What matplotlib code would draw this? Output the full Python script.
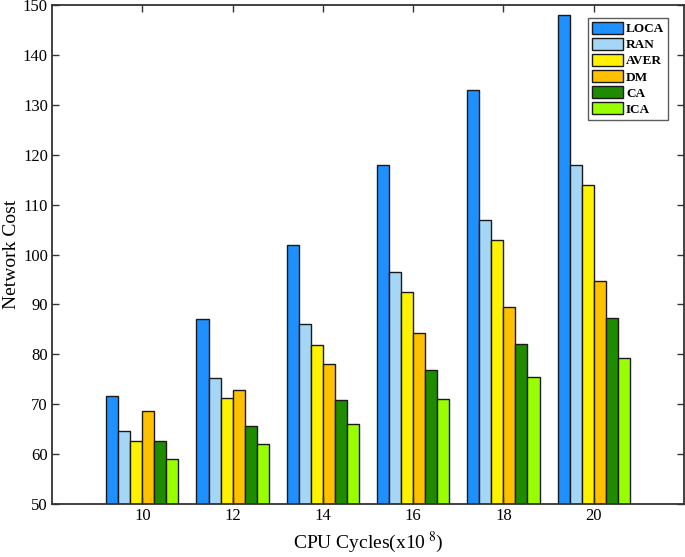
import numpy as np
import matplotlib
matplotlib.use("Agg")
import matplotlib.pyplot as plt

plt.rcParams['font.family'] = 'Liberation Serif'
plt.rcParams['mathtext.fontset'] = 'stix'

cycles = ['10', '12', '14', '16', '18', '20']
methods = ['LOCA', 'RAN', 'AVER', 'DM', 'CA', 'ICA']
loca = [71.7, 87.0, 102.0, 118.0, 133.0, 148.0]
ran = [64.6, 75.3, 86.0, 96.6, 106.9, 118.0]
aver = [62.6, 71.3, 81.9, 92.5, 103.0, 114.0]
dm = [68.6, 72.8, 78.0, 84.2, 89.5, 94.7]
ca = [62.6, 65.6, 70.8, 76.8, 82.0, 87.2]
ica = [59.0, 62.0, 66.1, 71.0, 75.5, 79.3]
series = [loca, ran, aver, dm, ca, ica]
colors = ['#1E90FF', '#A6D6F5', '#FFF200', '#FFC000', '#1F8C00', '#99FF00']

fig = plt.figure(figsize=(6.85, 5.57), dpi=100)
ax = fig.add_axes([0.076, 0.095, 0.9225, 0.896])

x = np.arange(1, len(cycles) + 1)
w = 0.8 / len(methods)
for i, (vals, c, name) in enumerate(zip(series, colors, methods)):
    ax.bar(x + (i - 2.5) * w, np.array(vals) - 50, w, bottom=50, color=c,
           edgecolor='#1a1a1a', linewidth=1.0, label=name)

ax.set_xlim(0, 7)
ax.set_ylim(50, 150)
ax.set_xticks(x)
ax.set_xticklabels(cycles)
ax.set_yticks(np.arange(50, 151, 10))
ax.tick_params(direction='in', top=True, right=True, labelsize=12,
               length=5, width=1, colors='#333333', labelcolor='black', pad=3)
for s in ax.spines.values():
    s.set_color('#333333')
    s.set_linewidth(1.3)

ax.set_xlabel(r'CPU Cycles(x10$^{\ 8}$)', fontsize=14, labelpad=4)
ax.set_ylabel('Network Cost', fontsize=14, labelpad=2)

leg = ax.legend(loc='upper right', bbox_to_anchor=(0.975, 0.974),
                prop={'weight': 'bold', 'size': 9.5}, handlelength=2.4,
                handleheight=1.0, handletextpad=0.2, labelspacing=0.2,
                borderpad=0.3, borderaxespad=0, fancybox=False, frameon=True)
leg.get_frame().set_edgecolor('#333333')
leg.get_frame().set_linewidth(1.0)

fig.savefig('out.png', dpi=100)
